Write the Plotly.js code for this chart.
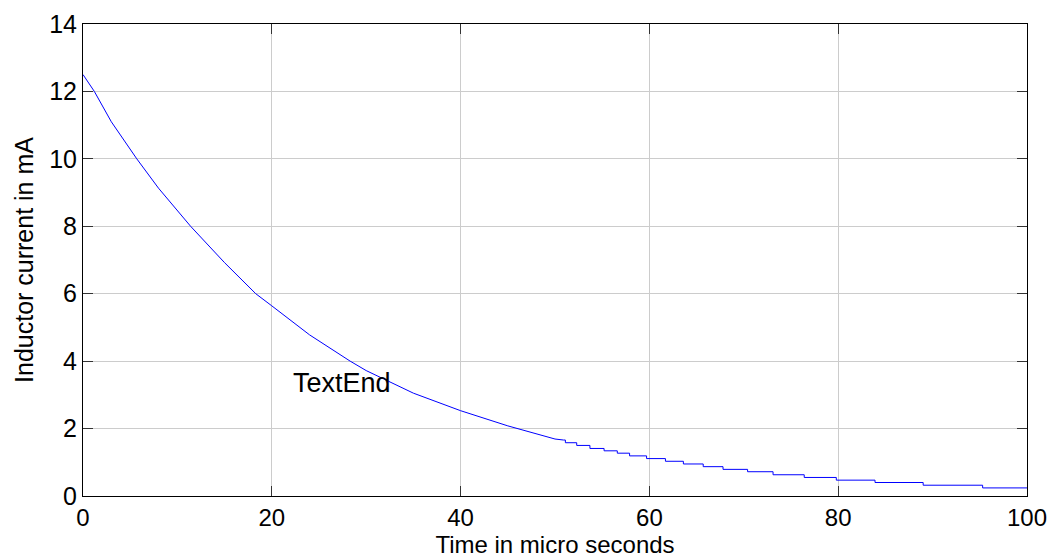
<!DOCTYPE html>
<html>
<head>
<meta charset="utf-8">
<script src="https://cdn.plot.ly/plotly-3.0.1.min.js"></script>
<style>html,body{margin:0;padding:0;background:#fff;}#chart{width:1052px;height:560px;}</style>
</head>
<body>
<div id="chart"></div>
<script>
// Smooth-looking early part of the decay (time in µs, current in mA)
const timeEarly = [0, 1.2, 3, 5.7, 8, 11.4, 15, 18.3, 20, 24, 28.3, 30, 35, 40, 45, 50, 50.9];
const currentEarly = [12.5, 12.0, 11.1, 10.0, 9.13, 8.0, 6.92, 6.0, 5.64, 4.78, 4.0, 3.72, 3.05, 2.53, 2.08, 1.69, 1.66];

// Quantised staircase tail: start time of each step and its level
const stepTimes = [50.9, 51.1, 52.3, 53.7, 55.2, 56.6, 57.9, 59.7, 61.7, 63.6, 65.7, 67.8, 70.4, 73.1, 76.4, 79.8, 83.9, 89.0, 95.3, 100];
const stepLevels = [1.66, 1.58, 1.50, 1.41, 1.34, 1.27, 1.19, 1.11, 1.03, 0.95, 0.87, 0.79, 0.72, 0.63, 0.55, 0.47, 0.40, 0.32, 0.24, 0.24];

const xTicks = [0, 20, 40, 60, 80, 100];
const yTicks = [0, 2, 4, 6, 8, 10, 12, 14];
const xTitle = 'Time in micro seconds';
const yTitle = 'Inductor current in mA';
const noteText = 'TextEnd';
const noteX = 22;
const noteY = 3.35;

const FONT = 'Liberation Sans, Arial, sans-serif';

const traces = [
  {x: timeEarly, y: currentEarly, mode: 'lines', line: {color: '#0000ff', width: 1}, hoverinfo: 'skip'},
  {x: stepTimes, y: stepLevels, mode: 'lines', line: {color: '#0000ff', width: 1, shape: 'hv'}, hoverinfo: 'skip'}
];

const axisCommon = {
  showline: true, linecolor: '#000', linewidth: 1, mirror: 'ticks',
  ticks: 'inside', ticklen: 10, tickcolor: '#333', tickwidth: 1,
  showgrid: true, gridcolor: '#cccccc', gridwidth: 1,
  zeroline: false,
  tickfont: {family: FONT, size: 24, color: '#000'}
};

const layout = {
  width: 1052, height: 560,
  margin: {l: 83, r: 25, t: 24, b: 64},
  paper_bgcolor: '#fff', plot_bgcolor: '#fff',
  showlegend: false,
  font: {family: FONT, color: '#000'},
  xaxis: Object.assign({}, axisCommon, {
    range: [0, 100], tickvals: xTicks, ticktext: xTicks.map(String),
    ticklabelstandoff: 0,
    title: {text: xTitle, font: {family: FONT, size: 24, color: '#000'}, standoff: 3}
  }),
  yaxis: Object.assign({}, axisCommon, {
    range: [0, 14], tickvals: yTicks, ticktext: yTicks.map(String),
    ticklabelstandoff: 0,
    tickfont: {family: FONT, size: 25, color: '#000'},
    title: {text: yTitle, font: {family: FONT, size: 25, color: '#000'}, standoff: 8}
  }),
  annotations: [{
    x: noteX, y: noteY, xref: 'x', yref: 'y', text: noteText, showarrow: false,
    xanchor: 'left', yanchor: 'middle', font: {family: FONT, size: 27, color: '#000'}
  }]
};

Plotly.newPlot('chart', traces, layout, {staticPlot: true, displayModeBar: false});
</script>
</body>
</html>
